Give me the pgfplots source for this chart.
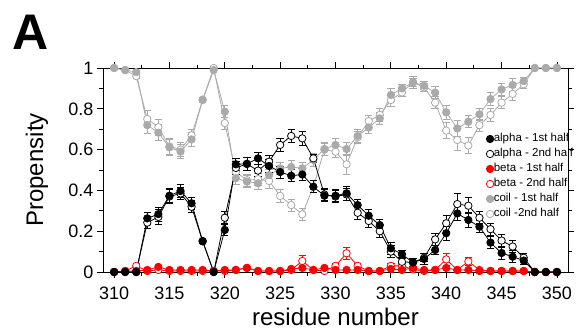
\documentclass[border=0pt]{standalone}
\usepackage{fontspec}
\setmainfont{Liberation Sans}
\usepackage{pgfplots}
\pgfplotsset{compat=1.18}
\usepackage{pgfplotstable}
\definecolor{coilgray}{RGB}{170,170,170}
\definecolor{betared}{RGB}{255,0,0}

\pgfplotstableread{
x   a1    ea1   a2    ea2   b1    eb1   b2    eb2   c1    ec1   c2    ec2
310 0     0     0     0     0     0     0     0     1.0   0     1.0   0
311 0     0     0     0     0.005 0     0.005 0     0.99  0     0.99  0
312 0     0     0     0     0.005 0     0.03  0.01  0.98  0     0.96  0.01
313 0.263 0.03  0.242 0.03  0.01  0     0.005 0     0.72  0.04  0.75  0.04
314 0.284 0.035 0.27  0.035 0.025 0.005 0.01  0     0.683 0.04  0.71  0.04
315 0.374 0.035 0.37  0.035 0.01  0     0.005 0     0.611 0.04  0.615 0.04
316 0.397 0.03  0.385 0.03  0.01  0     0.005 0     0.59  0.035 0.60  0.035
317 0.337 0.03  0.32  0.03  0.01  0     0.005 0     0.65  0.035 0.67  0.03
318 0.152 0.01  0.15  0.01  0.01  0     0.005 0     0.843 0.01  0.845 0.01
319 0     0     0     0     0.005 0     0.005 0     0.99  0     1.0   0
320 0.206 0.025 0.266 0.03  0.01  0     0.005 0     0.786 0.03  0.73  0.03
321 0.528 0.03  0.51  0.03  0.01  0     0.01  0     0.46  0.03  0.49  0.03
322 0.53  0.03  0.53  0.03  0.02  0.005 0.02  0     0.443 0.03  0.45  0.03
323 0.557 0.03  0.497 0.03  0.005 0     0.005 0     0.435 0.03  0.455 0.03
324 0.52  0.03  0.541 0.03  0.005 0     0.005 0     0.475 0.03  0.446 0.035
325 0.49  0.03  0.623 0.03  0.005 0     0.005 0     0.508 0.03  0.373 0.03
326 0.472 0.03  0.667 0.03  0.015 0     0.01  0     0.515 0.03  0.328 0.03
327 0.478 0.03  0.655 0.035 0.02  0     0.054 0.025 0.508 0.03  0.283 0.03
328 0.418 0.03  0.557 0.02  0.01  0     0.01  0     0.55  0.03  0.418 0.03
329 0.374 0.03  0.38  0.03  0.02  0     0.005 0     0.603 0.03  0.60  0.03
330 0.374 0.03  0.37  0.03  0.01  0     0.03  0.01  0.623 0.03  0.59  0.03
331 0.386 0.035 0.38  0.03  0.01  0     0.092 0.03  0.603 0.03  0.528 0.05
332 0.328 0.03  0.29  0.03  0.01  0     0.03  0.01  0.667 0.03  0.66  0.03
333 0.276 0.03  0.25  0.03  0.005 0     0.005 0     0.708 0.03  0.74  0.03
334 0.23  0.03  0.20  0.03  0.005 0     0.005 0     0.753 0.03  0.77  0.03
335 0.116 0.03  0.10  0.03  0.015 0     0.03  0.01  0.868 0.03  0.843 0.03
336 0.087 0.02  0.05  0.02  0.01  0     0.03  0.01  0.90  0.02  0.88  0.02
337 0.047 0.02  0.047 0.02  0.02  0     0.013 0     0.93  0.03  0.93  0.02
338 0.064 0.025 0.07  0.02  0.01  0     0.005 0     0.913 0.02  0.905 0.02
339 0.108 0.02  0.16  0.03  0.01  0     0.01  0     0.879 0.03  0.83  0.03
340 0.19  0.035 0.239 0.04  0.02  0     0.062 0.03  0.783 0.035 0.693 0.04
341 0.287 0.035 0.333 0.05  0.01  0     0.01  0     0.704 0.04  0.647 0.05
342 0.255 0.035 0.325 0.04  0.01  0     0.052 0.02  0.737 0.03  0.62  0.04
343 0.222 0.03  0.266 0.03  0.005 0     0.01  0     0.773 0.03  0.72  0.03
344 0.144 0.03  0.21  0.03  0.005 0     0.005 0     0.848 0.03  0.77  0.03
345 0.093 0.03  0.154 0.03  0.005 0     0.005 0     0.895 0.03  0.83  0.03
346 0.075 0.03  0.125 0.03  0.005 0     0.005 0     0.917 0.03  0.873 0.03
347 0.056 0.02  0.07  0.02  0.005 0     0.005 0     0.936 0.02  0.92  0.02
348 0     0     0     0     0     0     0     0     1.0   0     1.0   0
349 0     0     0     0     0     0     0     0     1.0   0     1.0   0
350 0     0     0     0     0     0     0     0     1.0   0     1.0   0
}\data

\begin{document}
\begin{tikzpicture}
\begin{axis}[
  scale only axis, width=465pt, height=204pt,
  xmin=309, xmax=351, ymin=0, ymax=1,
  xtick={310,315,320,325,330,335,340,345,350}, minor x tick num=1,
  ytick={0,0.2,0.4,0.6,0.8,1}, minor y tick num=1,
  tick align=outside,
  major tick length=6pt, minor tick length=3.5pt,
  axis line style={line width=0.8pt},
  every tick/.style={black, line width=0.8pt},
  tick label style={font=\fontsize{18}{18}\selectfont},
  xticklabel style={yshift=-5pt},
  /pgf/number format/assume math mode=true,
  xlabel={residue number}, ylabel={Propensity},
  label style={font=\fontsize{24}{24}\selectfont},
  xlabel style={at={(axis description cs:0.5,0)}, anchor=base, yshift=-53pt},
  ylabel style={at={([xshift=-66pt]axis description cs:0,0.5)}, anchor=center},
  clip=false,
  legend style={at={(0.824,0.68)}, anchor=north west, draw=none, fill=none,
    font=\fontsize{11.5}{13}\selectfont, inner sep=0pt, row sep=4pt,
    nodes={inner sep=0pt, font=\fontsize{11.5}{13}\selectfont, text height=8.5pt, text depth=2.5pt}},
  legend cell align=left,
  legend image code/.code={\draw[#1] plot coordinates {(4.2pt,0pt)};},
  every axis plot/.append style={line width=0.8pt, mark=*, mark size=3.7pt},
  error bars/error bar style={line width=0.8pt},
  error bars/error mark options={rotate=90, line width=0.8pt, mark size=3.7pt},
]
\addlegendimage{black, mark=*, mark options={fill=black}}
\addlegendentry{alpha - 1st half}
\addlegendimage{black, mark=*, mark options={fill=white}}
\addlegendentry{alpha - 2nd half}
\addlegendimage{betared, mark=*, mark options={fill=betared}}
\addlegendentry{beta - 1st half}
\addlegendimage{betared, mark=*, mark options={fill=white}}
\addlegendentry{beta - 2nd half}
\addlegendimage{coilgray, mark=*, mark options={fill=coilgray}}
\addlegendentry{coil - 1st half}
\addlegendimage{coilgray, mark=*, mark options={fill=white}}
\addlegendentry{coil -2nd half}

\addplot[forget plot, coilgray, mark options={fill=white},
  error bars/.cd, y dir=both, y explicit] table[x=x, y=c2, y error=ec2] {\data};
\addplot[forget plot, coilgray, mark options={fill=coilgray},
  error bars/.cd, y dir=both, y explicit] table[x=x, y=c1, y error=ec1] {\data};
\addplot[forget plot, betared, mark options={fill=white},
  error bars/.cd, y dir=both, y explicit] table[x=x, y=b2, y error=eb2] {\data};
\addplot[forget plot, betared, mark options={fill=betared},
  error bars/.cd, y dir=both, y explicit] table[x=x, y=b1, y error=eb1] {\data};
\addplot[forget plot, black, mark options={fill=white},
  error bars/.cd, y dir=both, y explicit] table[x=x, y=a2, y error=ea2] {\data};
\addplot[forget plot, black, mark options={fill=black},
  error bars/.cd, y dir=both, y explicit] table[x=x, y=a1, y error=ea1] {\data};

\node[anchor=base west, inner sep=0pt, font=\fontsize{50}{50}\selectfont\bfseries]
  at ([xshift=-91pt,yshift=19pt]rel axis cs:0,1) {A};
\end{axis}
\pgfresetboundingbox
\path[use as bounding box] ([shift={(-103pt,-61pt)}]current axis.south west)
  rectangle ([shift={(8pt,68pt)}]current axis.north east);
\end{tikzpicture}
\end{document}
